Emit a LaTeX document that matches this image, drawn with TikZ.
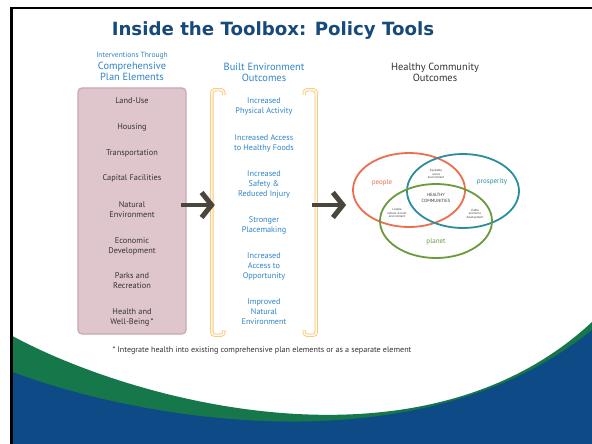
\documentclass[tikz,border=0pt]{standalone}
\usepackage{fontspec}
\setmainfont{PT Sans}
\newfontfamily\titlefont{DejaVu Sans}
\usetikzlibrary{arrows.meta,shapes.geometric}

\definecolor{slideblue}{HTML}{0E4A86}
\definecolor{slidegreen}{HTML}{15774A}
\definecolor{titleblue}{HTML}{17497A}
\definecolor{textblue}{HTML}{2F84C8}
\definecolor{plantext}{HTML}{333333}
\definecolor{planfill}{HTML}{DFC6CD}
\definecolor{planedge}{HTML}{CBA6B1}
\definecolor{bracketorange}{HTML}{F8C874}
\definecolor{arrowgray}{HTML}{4B463D}
\definecolor{peoplered}{HTML}{EC6E4E}
\definecolor{prosperteal}{HTML}{2B8D9E}
\definecolor{planetgreen}{HTML}{6A9A3C}

\begin{document}
\begin{tikzpicture}[
	x=1pt, y=-1pt,
	plan/.style={
		draw=planedge, line width=1.2pt, fill=planfill, rounded corners=4pt,
		minimum width=108pt, minimum height=246pt
	},
	item/.style={font=\fontsize{8.3}{10}\selectfont, text=plantext, align=center, inner sep=0pt},
	outcome/.style={font=\fontsize{8.2}{10}\selectfont, text=textblue, align=center, inner sep=0pt},
	head/.style={font=\fontsize{10.4}{11}\selectfont, text=textblue, align=center, inner sep=0pt},
	bracket/.style={draw=bracketorange, line width=0.8pt, double=bracketorange!15, double distance=1.8pt, rounded corners=3pt},
	bigarrow/.style={draw=arrowgray, line width=4pt, -{Straight Barb[length=10pt, width=25pt, line width=5pt]}},
	venn/.style={ellipse, draw=#1, line width=1.8pt, minimum width=112pt, minimum height=74pt},
	sphere/.style={font=\fontsize{7}{8}\selectfont, text=#1, inner sep=0pt},
	overlap/.style={font=\fontsize{3}{3.6}\selectfont, text=plantext, align=center, inner sep=0pt},
	]
	\useasboundingbox (0,0) rectangle (592,444);
	
	% slide background and the waves at the foot
	\fill[white] (0,0) rectangle (592,444);
	\fill[slidegreen] (12.5,336) .. controls (130,400) and (420,482) .. (592,322)
	-- (592,444) -- (12.5,444) -- cycle;
	\fill[slideblue] (12.5,372) .. controls (140,420) and (420,470) .. (592,330)
	-- (592,444) -- (12.5,444) -- cycle;
	\draw[line width=2.5pt] (11.25,444) -- (11.25,8.25) -- (592,8.25);
	
	\node[font={\titlefont\bfseries\fontsize{18.2}{20}\selectfont}, text=titleblue, anchor=base] (title) at (273,36) {Inside the Toolbox: Policy Tools};
	
	\node[head, font=\fontsize{7.5}{8}\selectfont] (hdrvia) at (132,56) {Interventions Through};
	\node[head] (hdrplan)   at (132,71.5) {Comprehensive\\Plan Elements};
	\node[head] (hdrbuilt)  at (264,72) {Built Environment\\Outcomes};
	\node[head, text=plantext] (hdrhealth) at (435,72) {Healthy Community\\Outcomes};
	
	\node[plan] (plan) at (132,211) {};
	\node[item] (landuse)   at (132,101) {Land-Use};
	\node[item] (housing)   at (132,127) {Housing};
	\node[item] (transport) at (132,153) {Transportation};
	\node[item] (capital)   at (132,178) {Capital Facilities};
	\node[item] (natenv)    at (132,210) {Natural\\Environment};
	\node[item] (econdev)   at (132,246) {Economic\\Development};
	\node[item] (parks)     at (132,281) {Parks and\\Recreation};
	\node[item] (wellbeing) at (132,317) {Health and\\Well-Being\,*};
	
	\node[minimum width=104pt, minimum height=245pt, inner sep=0pt] (built) at (264,212.5) {};
	\draw[bracket] ([xshift=12pt,yshift=-5pt]built.north west) |- (built.north west)
	-- (built.south west) -| ([xshift=12pt,yshift=5pt]built.south west);
	\draw[bracket] ([xshift=-12pt,yshift=-5pt]built.north east) |- (built.north east)
	-- (built.south east) -| ([xshift=-12pt,yshift=5pt]built.south east);
	
	\node[outcome] (physact)     at (264,106) {Increased\\Physical Activity};
	\node[outcome] (foods)       at (264,143) {Increased Access\\to Healthy Foods};
	\node[outcome] (safety)      at (264,184) {Increased\\Safety \&\\Reduced Injury};
	\node[outcome] (placemaking) at (264,225) {Stronger\\Placemaking};
	\node[outcome] (opportunity) at (264,266) {Increased\\Access to\\Opportunity};
	\node[outcome] (improvednat) at (264,312) {Improved\\Natural\\Environment};
	
	\node[venn=peoplered]   (people)     at (409,190) {};
	\node[venn=prosperteal] (prosperity) at (463,191) {};
	\node[venn=planetgreen] (planet)     at (436,221) {};
	
	\node[sphere=peoplered]   (peoplelbl)  at (382,183) {people};
	\node[sphere=prosperteal] (prosperlbl) at (492,182) {prosperity};
	\node[sphere=planetgreen] (planetlbl)  at (436,242) {planet};
	\node[overlap, font=\fontsize{4.5}{5.5}\selectfont] (healthy) at (436,198) {HEALTHY\\COMMUNITIES};
	\node[overlap] (equitable) at (436,174) {Equitable\\social\\environment};
	\node[overlap] (livable)   at (397,213) {Livable\\natural \& built\\environment};
	\node[overlap] (viable)    at (475,214) {Viable\\economic\\development};
	
	\draw[bigarrow] ([xshift=-6pt,yshift=6pt]plan.east) -- ([xshift=3pt,yshift=7.5pt]built.west);
	\draw[bigarrow] ([xshift=-4pt,yshift=7.5pt]built.east) -- ([xshift=-6pt,yshift=-15pt]people.west);
	
	\node[font=\fontsize{8.1}{9}\selectfont, text=plantext] (footnote) at (262,350) {* Integrate health into existing comprehensive plan elements or as a separate element};
	
\end{tikzpicture}
\end{document}
